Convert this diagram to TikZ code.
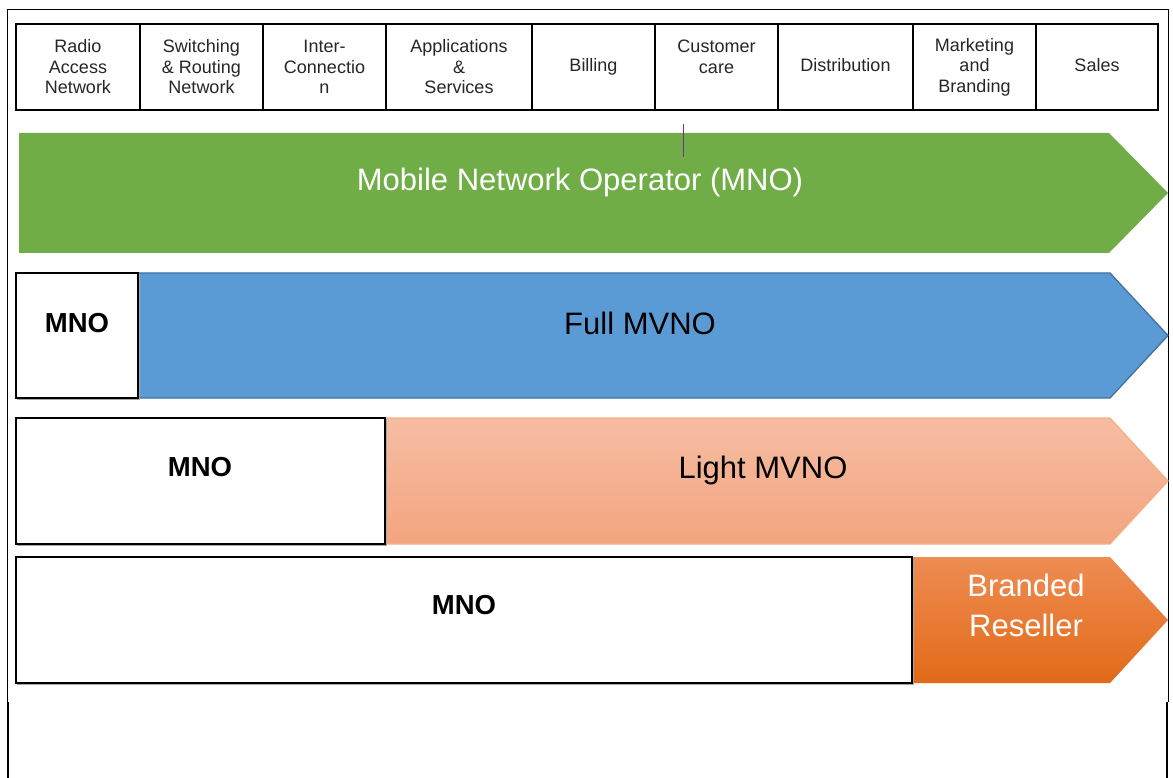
\documentclass[tikz,border=0pt]{standalone}
\usepackage{fontspec}
\setmainfont{Liberation Sans}
\definecolor{mnogreen}{HTML}{70AD47}
\definecolor{mvnoblue}{HTML}{5B9BD5}
\definecolor{mvnoblueline}{HTML}{41719C}
\definecolor{lighttop}{HTML}{F6BDA2}
\definecolor{lightbot}{HTML}{F4A47F}
\definecolor{lightline}{HTML}{F4B183}
\definecolor{brandtop}{HTML}{EE8C52}
\definecolor{brandmid}{HTML}{F37B22}
\definecolor{brandbot}{HTML}{E26A18}
\definecolor{headtext}{HTML}{262626}
\definecolor{tickline}{HTML}{7030A0}
\begin{document}
\begin{tikzpicture}[x=1pt,y=-1pt,
  cell/.style={draw=black,line width=2pt,inner sep=0pt,minimum height=86pt,align=center,text=headtext,font=\fontsize{18}{20.5}\selectfont},
  onecell/.style={cell,text height=12.6pt,text depth=3.7pt},
  mnobox/.style={draw=black,line width=2pt,fill=white,inner sep=0pt},
  shadowbox/.style={draw=black!35,line width=1.5pt,inner sep=0pt},
  bigtext/.style={font=\fontsize{31}{40}\selectfont,inner sep=0pt,anchor=base},
  mnolabel/.style={font=\bfseries\fontsize{27.5}{30}\selectfont,inner sep=0pt,anchor=base},
  frameline/.style={draw=black,line width=0.8pt},
  framethick/.style={draw=black,line width=2pt}]
\useasboundingbox (0,0) rectangle (1173,778);
\fill[white] (0,0) rectangle (1173,778);

% outer frame
\coordinate (fl1) at (7,702);
\coordinate (fl2) at (7,9);
\coordinate (fr1) at (1168,9);
\coordinate (fr2) at (1168,702);
\draw[frameline] (fl1) -- (fl2) -- (fr1) -- (fr2);
\coordinate (flb1) at (8,702);
\coordinate (flb2) at (8,778);
\coordinate (frb1) at (1167,702);
\coordinate (frb2) at (1167,778);
\draw[framethick] (flb1) -- (flb2);
\draw[framethick] (frb1) -- (frb2);

% header cells
\node[cell,minimum width=124pt] (c1) at (78,67) {Radio\\Access\\Network};
\node[cell,minimum width=123pt] (c2) at (201.5,67) {Switching\\\& Routing\\Network};
\node[cell,minimum width=123pt] (c3) at (324.5,67) {Inter-\\Connectio\\n};
\node[cell,minimum width=146pt] (c4) at (459,67) {Applications\\\&\\Services};
\node[onecell,minimum width=123pt] (c5) at (593.5,67) {Billing};
\node[cell,minimum width=123pt] (c6) at (716.5,67) {Customer\\care\\~};
\node[onecell,minimum width=135pt] (c7) at (845.5,67) {Distribution};
\node[cell,minimum width=123pt] (c8) at (974.5,67) {Marketing\\and\\Branding};
\node[onecell,minimum width=122pt] (c9) at (1097,67) {Sales};

% MNO green arrow
\fill[mnogreen] (19,133) -- (1109,133) -- (1168,193) -- (1109,253) -- (19,253) -- cycle;
\node[bigtext,text=white] (mnoarrow) at (580,191) {Mobile Network Operator (MNO)};

% small tick line
\coordinate (tickTop) at (683,124);
\coordinate (tickBot) at (683,157);
\draw[tickline,line width=1pt] (tickTop) -- (tickBot);

% Full MVNO row
\filldraw[fill=mvnoblue,draw=mvnoblueline,line width=1.3pt] (138,273) -- (1110,273) -- (1168,335.5) -- (1110,398) -- (138,398) -- cycle;
\node[shadowbox,minimum width=122pt,minimum height=125pt] (mno2sh) at (78.5,337) {};
\node[mnobox,minimum width=122pt,minimum height=125pt] (mno2box) at (77,335.5) {};
\node[mnolabel] (mno2) at (77,332) {MNO};
\node[bigtext] (fullmvno) at (640,334) {Full MVNO};

% Light MVNO row
\shade[top color=lighttop,bottom color=lightbot] (385,418) -- (1110,418) -- (1168,481) -- (1110,544) -- (385,544) -- cycle;
\draw[lightline,line width=1.2pt] (385,418) -- (1110,418) -- (1168,481) -- (1110,544) -- (385,544);
\node[shadowbox,minimum width=369pt,minimum height=126pt] (mno3sh) at (202,482.5) {};
\node[mnobox,minimum width=369pt,minimum height=126pt] (mno3box) at (200.5,481) {};
\node[mnolabel] (mno3) at (200,476) {MNO};
\node[bigtext] (lightmvno) at (763,478) {Light MVNO};

% Branded reseller row
\shade[top color=brandtop,middle color=brandmid,bottom color=brandbot] (912,557) -- (1110,557) -- (1168,620) -- (1110,683) -- (912,683) -- cycle;
\node[shadowbox,minimum width=896pt,minimum height=126pt] (mno4sh) at (465.5,621.5) {};
\node[mnobox,minimum width=896pt,minimum height=126pt] (mno4box) at (464,620) {};
\node[mnolabel] (mno4) at (464,614) {MNO};
\node[font=\fontsize{31}{40}\selectfont,inner sep=0pt,anchor=base,align=center,text=white] (brand) at (1026,636) {Branded\\Reseller};
\end{tikzpicture}
\end{document}
